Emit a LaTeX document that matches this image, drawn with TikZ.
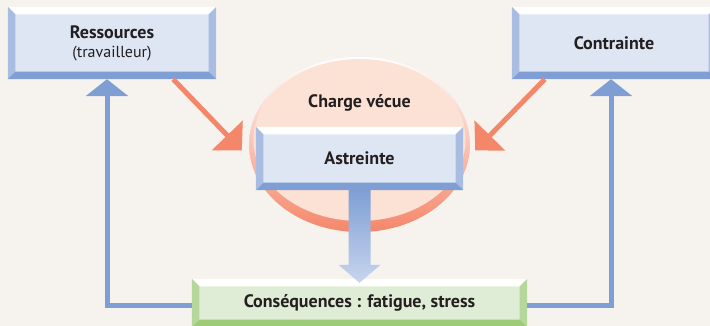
\documentclass[tikz,border=0pt]{standalone}
\usepackage{fontspec}
\setmainfont{PT Sans}
\usetikzlibrary{arrows.meta}
\definecolor{bg}{RGB}{246,243,238}
\definecolor{ink}{RGB}{35,31,32}
\definecolor{boxfill}{RGB}{222,230,244}
\definecolor{boxside}{RGB}{169,188,226}
\definecolor{boxbot}{RGB}{127,159,212}
\definecolor{grfill}{RGB}{224,237,214}
\definecolor{grside}{RGB}{181,216,154}
\definecolor{grbot}{RGB}{157,204,120}
\definecolor{salm}{RGB}{244,135,106}
\definecolor{peach}{RGB}{252,226,213}
\definecolor{downlight}{RGB}{200,213,238}
\newlength\bw \setlength\bw{7.5pt}
\newcommand\bevel[3]{%
  \fill[white] (#1.north west) -- (#1.north east) -- ([xshift=-\bw,yshift=-\bw]#1.north east) -- ([xshift=\bw,yshift=-\bw]#1.north west) -- cycle;
  \fill[#2] (#1.north west) -- ([xshift=\bw,yshift=-\bw]#1.north west) -- ([xshift=\bw,yshift=\bw]#1.south west) -- (#1.south west) -- cycle;
  \fill[#2] (#1.north east) -- ([xshift=-\bw,yshift=-\bw]#1.north east) -- ([xshift=-\bw,yshift=\bw]#1.south east) -- (#1.south east) -- cycle;
  \fill[#3] (#1.south west) -- ([xshift=\bw,yshift=\bw]#1.south west) -- ([xshift=-\bw,yshift=\bw]#1.south east) -- (#1.south east) -- cycle;}
\tikzset{
  lbl/.style={text=ink, font=\fontsize{18}{19}\selectfont\bfseries},
  box/.style={lbl, fill=boxfill, inner sep=0pt, align=center},
  grbox/.style={box, fill=grfill},
  feed/.style={draw=boxbot, line width=5pt, -{Triangle[width=42pt,length=17pt]}},
  load/.style={draw=salm, line width=5pt, -{Triangle[width=42pt,length=21pt]}}
}
\begin{document}
\begin{tikzpicture}[x=1pt,y=-1pt]
\fill[bg] (0,0) rectangle (710,326);
\useasboundingbox (0,0) rectangle (710,326);
\shade[top color=white, middle color=peach!75!salm, bottom color=salm] (359.5,144.5) ellipse [x radius=110.5pt, y radius=87.5pt];
\fill[peach] (359.5,140) ellipse [x radius=106pt, y radius=81pt];
\node[lbl, anchor=base] (charge) at (359.5,108) {Charge vécue};
\node[box, minimum width=208pt, minimum height=72pt] (res) at (112,43) {Ressources\\[0pt]{\fontsize{16}{19}\selectfont\mdseries (travailleur)}};
\node[box, minimum width=204pt, minimum height=72pt] (con) at (614,43) {Contrainte};
\node[box, minimum width=207pt, minimum height=63pt] (ast) at (359.5,158.5) {Astreinte};
\node[grbox, minimum width=335pt, minimum height=48pt] (csq) at (359.5,303) {Conséquences : fatigue, stress};
\bevel{res}{boxside}{boxbot}
\bevel{con}{boxside}{boxbot}
\bevel{ast}{boxside}{boxbot}
\bevel{csq}{grside}{grbot}
\draw[load] ([xshift=-43pt]res.south east) -- ([xshift=-14pt,yshift=8pt]ast.west);
\draw[load] ([xshift=33pt]con.south west) -- ([xshift=12pt,yshift=8pt]ast.east);
\draw[feed] ([yshift=-2.5pt]csq.west) -| ([xshift=-5pt]res.south);
\draw[feed] ([yshift=-2.5pt]csq.east) -| ([xshift=-3pt]con.south);
\shade[top color=boxbot, bottom color=downlight] ([xshift=-11pt]ast.south) -- ([xshift=11pt]ast.south) -- ([xshift=11pt,yshift=14pt]csq.north) -- ([xshift=21pt,yshift=14pt]csq.north) -- ([yshift=-4pt]csq.north) -- ([xshift=-21pt,yshift=14pt]csq.north) -- ([xshift=-11pt,yshift=14pt]csq.north) -- cycle;
\end{tikzpicture}
\end{document}
